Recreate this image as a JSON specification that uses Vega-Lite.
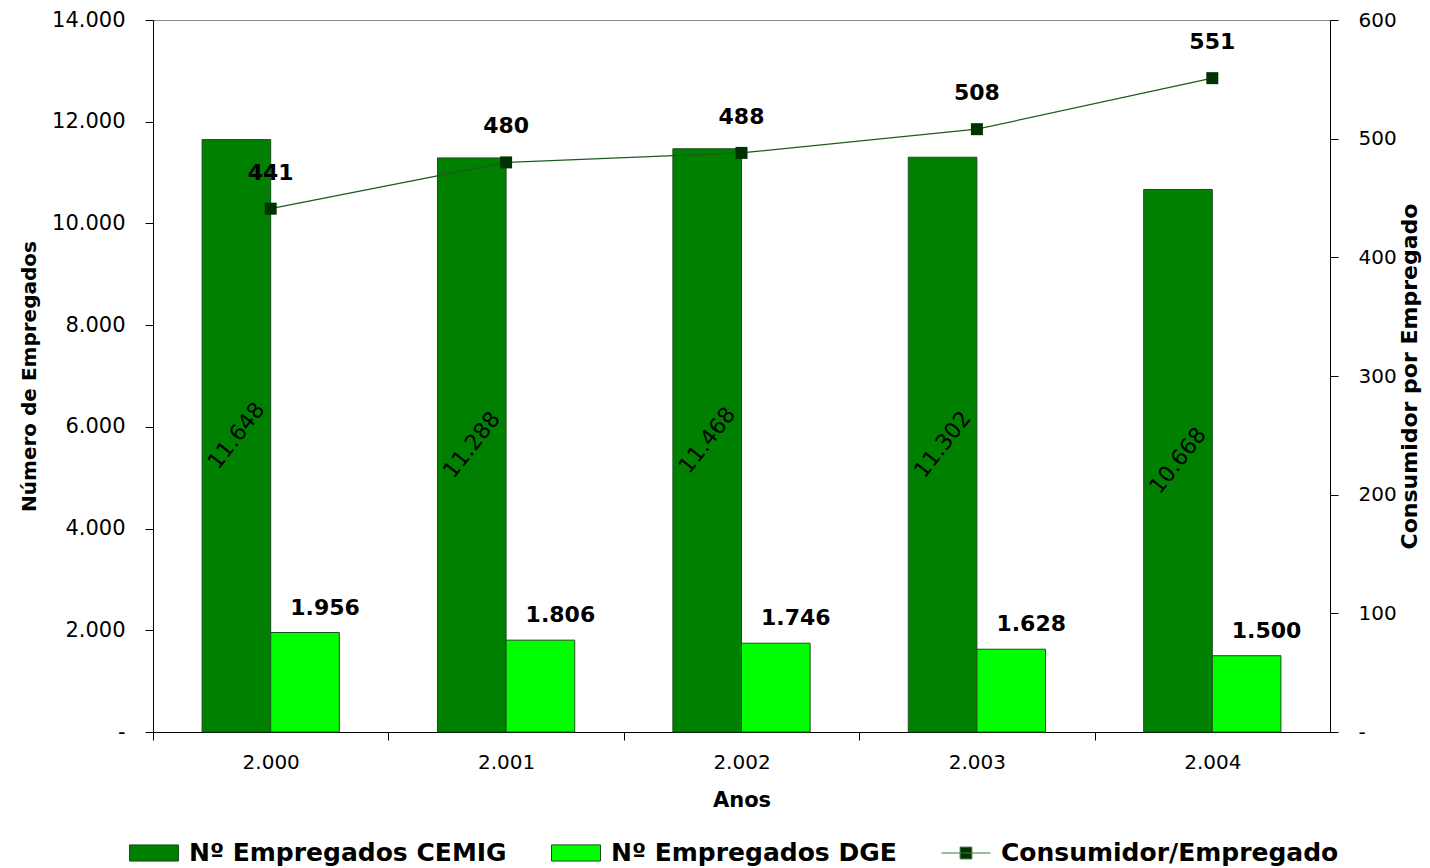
{
  "$schema": "https://vega.github.io/schema/vega-lite/v6.json",
  "width": 1177,
  "height": 712,
  "autosize": {"type": "none"},
  "padding": {"left": 153, "top": 20, "right": 100, "bottom": 136},
  "background": "white",
  "datasets": {
    "empregados": [
      {"ano": "2.000", "serie": "Nº Empregados CEMIG", "valor": 11648},
      {"ano": "2.001", "serie": "Nº Empregados CEMIG", "valor": 11288},
      {"ano": "2.002", "serie": "Nº Empregados CEMIG", "valor": 11468},
      {"ano": "2.003", "serie": "Nº Empregados CEMIG", "valor": 11302},
      {"ano": "2.004", "serie": "Nº Empregados CEMIG", "valor": 10668},
      {"ano": "2.000", "serie": "Nº Empregados DGE", "valor": 1956},
      {"ano": "2.001", "serie": "Nº Empregados DGE", "valor": 1806},
      {"ano": "2.002", "serie": "Nº Empregados DGE", "valor": 1746},
      {"ano": "2.003", "serie": "Nº Empregados DGE", "valor": 1628},
      {"ano": "2.004", "serie": "Nº Empregados DGE", "valor": 1500}
    ],
    "consumo": [
      {"ano": "2.000", "consumidor": 441},
      {"ano": "2.001", "consumidor": 480},
      {"ano": "2.002", "consumidor": 488},
      {"ano": "2.003", "consumidor": 508},
      {"ano": "2.004", "consumidor": 551}
    ]
  },
  "encoding": {
    "x": {
      "field": "ano",
      "type": "nominal",
      "sort": null,
      "scale": {"paddingInner": 0.417, "paddingOuter": 0.2085},
      "axis": {
        "title": "Anos",
        "labelAngle": 0,
        "tickOffset": -117.7,
        "labelOffset": 117.7,
        "tickSize": 8,
        "labelPadding": 12,
        "titlePadding": 17
      }
    }
  },
  "layer": [
    {
      "data": {"name": "empregados"},
      "mark": {"type": "bar", "stroke": "#1a4d1a", "strokeWidth": 1},
      "encoding": {
        "xOffset": {
          "field": "serie",
          "type": "nominal",
          "scale": {"domain": ["Nº Empregados CEMIG", "Nº Empregados DGE"], "paddingInner": 0, "paddingOuter": 0}
        },
        "y": {
          "field": "valor",
          "type": "quantitative",
          "scale": {"domain": [0, 14000], "nice": false},
          "axis": {
            "orient": "left",
            "title": "Número de Empregados",
            "values": [0, 2000, 4000, 6000, 8000, 10000, 12000, 14000],
            "format": ",d",
            "labelExpr": "datum.value === 0 ? '-' : datum.label",
            "labelFontSize": 21,
            "grid": false,
            "tickSize": 8,
            "labelPadding": 20,
            "titlePadding": 12,
            "titleFontSize": 20
          }
        },
        "color": {
          "field": "serie",
          "type": "nominal",
          "scale": {
            "domain": ["Nº Empregados CEMIG", "Nº Empregados DGE", "Consumidor/Empregado"],
            "range": ["#008000", "#00ff00", "#003300"]
          },
          "legend": {
            "orient": "none",
            "legendX": -24,
            "legendY": 808,
            "direction": "horizontal",
            "title": null,
            "labelFont": "DejaVu Sans",
            "labelFontWeight": "bold",
            "labelFontSize": 25,
            "labelColor": "black",
            "labelLimit": 600,
            "labelOffset": 10,
            "columnPadding": 42,
            "symbolSize": 2401,
            "symbolType": "M-1,-0.33H1V0.33H-1Z",
            "symbolStrokeColor": "#1a4d1a",
            "symbolStrokeWidth": 1,
            "symbolOpacity": 1,
            "encode": {
              "symbols": {
                "update": {
                  "shape": {"signal": "datum.value === 'Consumidor/Empregado' ? 'M-1,0H1M-0.24,-0.24H0.24V0.24H-0.24Z' : 'M-1,-0.33H1V0.33H-1Z'"},
                  "stroke": {"signal": "datum.value === 'Consumidor/Empregado' ? '#3c7a3c' : '#1a4d1a'"}
                }
              }
            }
          }
        }
      }
    },
    {
      "data": {"name": "empregados"},
      "transform": [{"filter": "datum.serie === 'Nº Empregados CEMIG'"}],
      "mark": {"type": "text", "angle": -52, "align": "center", "baseline": "middle", "fontSize": 22, "font": "DejaVu Sans", "color": "black"},
      "encoding": {
        "xOffset": {"field": "serie", "type": "nominal"},
        "y": {
          "field": "valor",
          "type": "quantitative",
          "scale": {"domain": [0, 28000], "nice": false},
          "axis": null
        },
        "text": {"field": "valor", "type": "quantitative", "format": ",d"}
      }
    },
    {
      "data": {"name": "empregados"},
      "transform": [{"filter": "datum.serie === 'Nº Empregados DGE'"}],
      "mark": {"type": "text", "align": "center", "baseline": "middle", "dx": 20, "dy": -25, "fontSize": 22, "fontWeight": "bold", "font": "DejaVu Sans", "color": "black"},
      "encoding": {
        "xOffset": {"field": "serie", "type": "nominal"},
        "y": {
          "field": "valor",
          "type": "quantitative",
          "scale": {"domain": [0, 14000], "nice": false},
          "axis": null
        },
        "text": {"field": "valor", "type": "quantitative", "format": ",d"}
      }
    },
    {
      "data": {"name": "consumo"},
      "mark": {
        "type": "line",
        "color": "#1e5a1e",
        "strokeWidth": 1.2,
        "point": {"shape": "square", "size": 144, "filled": true, "color": "#003300", "opacity": 1}
      },
      "encoding": {
        "y": {
          "field": "consumidor",
          "type": "quantitative",
          "scale": {"domain": [0, 600], "nice": false},
          "axis": {
            "orient": "right",
            "title": "Consumidor por Empregado",
            "titleAngle": -90,
            "values": [0, 100, 200, 300, 400, 500, 600],
            "labelExpr": "datum.value === 0 ? '-' : datum.label",
            "grid": false,
            "tickSize": 8,
            "labelPadding": 20,
            "titlePadding": 25,
            "titleFontSize": 22
          }
        }
      }
    },
    {
      "data": {"name": "consumo"},
      "mark": {"type": "text", "align": "center", "baseline": "middle", "dy": -36, "fontSize": 22, "fontWeight": "bold", "font": "DejaVu Sans", "color": "black"},
      "encoding": {
        "y": {
          "field": "consumidor",
          "type": "quantitative",
          "scale": {"domain": [0, 600], "nice": false},
          "axis": null
        },
        "text": {"field": "consumidor", "type": "quantitative"}
      }
    }
  ],
  "resolve": {"scale": {"y": "independent"}, "axis": {"y": "independent"}},
  "config": {
    "locale": {
      "number": {"decimal": ",", "thousands": ".", "grouping": [3], "currency": ["R$", ""]}
    },
    "view": {"stroke": "#888888", "strokeWidth": 1},
    "font": "DejaVu Sans",
    "axis": {
      "labelFont": "DejaVu Sans",
      "labelFontSize": 20,
      "labelColor": "black",
      "titleFont": "DejaVu Sans",
      "titleFontWeight": "bold",
      "titleFontSize": 21,
      "titleColor": "black",
      "domainColor": "black",
      "tickColor": "black",
      "domainWidth": 1,
      "tickWidth": 1
    }
  }
}
